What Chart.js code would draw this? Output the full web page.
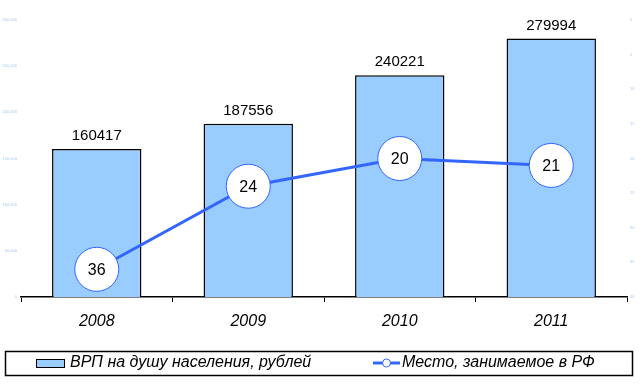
<!DOCTYPE html>
<html>
<head>
<meta charset="utf-8">
<script src="https://cdn.jsdelivr.net/npm/chart.js@4.4.1/dist/chart.umd.min.js"></script>
<style>
  body { margin: 0; background: #fff; }
  #wrap { width: 641px; height: 387px; }
</style>
</head>
<body>
<div id="wrap"><canvas id="chart" width="641" height="387"></canvas></div>
<script>
const years = ['2008', '2009', '2010', '2011'];
const grpPerCapita = [160417, 187556, 240221, 279994];
const rankInRF = [36, 24, 20, 21];
const seriesNames = ['ВРП на душу населения, рублей', 'Место, занимаемое в РФ'];

const FONT = "'Liberation Sans', Arial, sans-serif";
const barFill = '#99ccff';
const lineBlue = '#3366ff';

// numbers above the bars and inside the circles
const valueLabels = {
  id: 'valueLabels',
  afterDatasetsDraw(chart) {
    const ctx = chart.ctx;
    ctx.save();
    ctx.fillStyle = '#000';
    ctx.textAlign = 'center';
    ctx.textBaseline = 'middle';
    ctx.font = `15px ${FONT}`;
    chart.getDatasetMeta(0).data.forEach((bar, i) => {
      ctx.fillText(chart.data.datasets[0].data[i], bar.x, bar.y - 13);
    });
    ctx.font = `16px ${FONT}`;
    chart.getDatasetMeta(1).data.forEach((pt, i) => {
      ctx.fillText(chart.data.datasets[1].data[i], pt.x, pt.y + 1);
    });
    ctx.restore();
  }
};

// legend in a framed box under the chart
const boxLegend = {
  id: 'boxLegend',
  afterDraw(chart) {
    const ctx = chart.ctx;
    const [bars, line] = chart.data.datasets;
    const top = 351, bottom = 375, mid = (top + bottom) / 2;
    ctx.save();
    ctx.strokeStyle = '#000';
    ctx.lineWidth = 1.5;
    ctx.strokeRect(5.5, top + 0.5, 627, bottom - top);

    // bar swatch
    ctx.lineWidth = 1;
    ctx.fillStyle = bars.backgroundColor;
    ctx.fillRect(36, mid - 4, 29, 8);
    ctx.strokeRect(36.5, mid - 3.5, 28, 8);

    // line swatch
    ctx.strokeStyle = line.borderColor;
    ctx.lineWidth = 3;
    ctx.beginPath();
    ctx.moveTo(373, mid);
    ctx.lineTo(400, mid);
    ctx.stroke();
    ctx.lineWidth = 1;
    ctx.fillStyle = '#fff';
    ctx.beginPath();
    ctx.arc(386.5, mid, 4, 0, Math.PI * 2);
    ctx.fill();
    ctx.stroke();

    ctx.fillStyle = '#000';
    ctx.font = `italic 16px ${FONT}`;
    ctx.textBaseline = 'middle';
    ctx.textAlign = 'left';
    ctx.fillText(bars.label, 70, mid);
    ctx.fillText(line.label, 402, mid);
    ctx.restore();
  }
};

new Chart(document.getElementById('chart'), {
  type: 'bar',
  data: {
    labels: years,
    datasets: [
      {
        label: seriesNames[0],
        data: grpPerCapita,
        backgroundColor: barFill,
        borderColor: '#000',
        borderWidth: 1.5,
        barPercentage: 0.59,
        categoryPercentage: 1,
        yAxisID: 'y',
        order: 1
      },
      {
        type: 'line',
        label: seriesNames[1],
        data: rankInRF,
        borderColor: lineBlue,
        borderWidth: 3,
        tension: 0,
        pointRadius: 22,
        pointHoverRadius: 22,
        pointBackgroundColor: '#fff',
        pointBorderColor: lineBlue,
        pointBorderWidth: 1,
        clip: false,
        yAxisID: 'y2',
        order: 0
      }
    ]
  },
  options: {
    responsive: false,
    animation: false,
    events: [],
    layout: { autoPadding: false, padding: { top: 20, bottom: 50, left: 0, right: 0 } },
    plugins: {
      legend: { display: false },
      tooltip: { enabled: false }
    },
    scales: {
      x: {
        grid: {
          display: true,
          offset: true,
          drawOnChartArea: false,
          drawTicks: true,
          tickLength: 5,
          color: '#000'
        },
        border: { display: true, color: '#000', width: 1.5 },
        ticks: {
          color: '#000',
          font: { family: FONT, size: 16, style: 'italic' },
          padding: 10
        },
        afterFit: s => { s.height = 40; }
      },
      y: {
        position: 'left',
        min: 0,
        max: 300000,
        grid: { display: false, drawTicks: false },
        border: { display: false },
        ticks: {
          stepSize: 50000,
          color: '#a9c8ee',
          font: { family: FONT, size: 4 },
          padding: 4
        },
        afterFit: s => { s.width = 21; }
      },
      y2: {
        position: 'right',
        reverse: true,
        min: 0,
        max: 40,
        grid: { display: false, drawTicks: false },
        border: { display: false },
        ticks: {
          stepSize: 5,
          color: '#a9c8ee',
          font: { family: FONT, size: 4 },
          padding: 3
        },
        afterFit: s => { s.width = 14; }
      }
    }
  },
  plugins: [valueLabels, boxLegend]
});
</script>
</body>
</html>
